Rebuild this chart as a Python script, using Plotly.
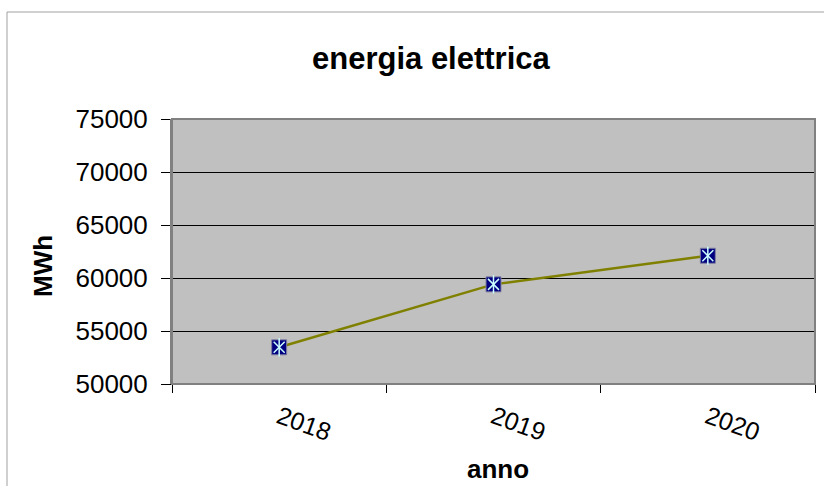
import plotly.graph_objects as go

years = ["2018", "2019", "2020"]
mwh = [53460, 59400, 62100]
y_ticks = [50000, 55000, 60000, 65000, 70000, 75000]
y_tick_labels = [str(v) for v in y_ticks]
title_text = "energia elettrica"
x_title = "anno"
y_title = "MWh"

W, H = 824, 486
L, R, T, B = 172, 9, 119, 102
PW, PH = W - L - R, H - T - B

def px_x(px):
    return (px - L) / PW

def px_y(py):
    return (H - B - py) / PH

FONT = "Liberation Sans, Arial, sans-serif"

fig = go.Figure()
fig.add_trace(go.Scatter(
    x=years, y=mwh, mode="lines+markers",
    line=dict(color="#808000", width=2.5),
    marker=dict(symbol="square", size=15, color="#000080",
                line=dict(color="#8080a0", width=1)),
    showlegend=False, hoverinfo="skip"))
fig.add_trace(go.Scatter(
    x=years, y=mwh, mode="markers",
    marker=dict(symbol="x-thin-open", size=11, color="#ccffff",
                line=dict(color="#ccffff", width=1.5)),
    showlegend=False, hoverinfo="skip"))
fig.add_trace(go.Scatter(
    x=years, y=mwh, mode="markers",
    marker=dict(symbol="line-ns-open", size=13, color="#ccffff",
                line=dict(color="#ccffff", width=1.5)),
    showlegend=False, hoverinfo="skip"))

fig.update_layout(
    width=W, height=H,
    margin=dict(l=L, r=R, t=T, b=B, pad=0),
    paper_bgcolor="white",
    plot_bgcolor="#C0C0C0",
    font=dict(family=FONT, color="black"),
    showlegend=False,
    xaxis=dict(
        type="category", range=[-0.5, 2.5],
        tickson="boundaries", ticks="outside", ticklen=8, tickwidth=1,
        tickcolor="black", showgrid=False, zeroline=False,
        showline=True, linecolor="black", linewidth=1,
        tickangle=20, tickfont=dict(size=25, family=FONT),
        ticklabelstandoff=8,
    ),
    yaxis=dict(
        range=[50000, 75000], tickvals=y_ticks, ticktext=y_tick_labels,
        ticks="outside", ticklen=9, tickwidth=1, tickcolor="black",
        showgrid=True, gridcolor="black", gridwidth=1, zeroline=False,
        showline=True, linecolor="#808080", linewidth=2,
        tickfont=dict(size=26, family=FONT),
        ticklabelstandoff=8,
    ),
    shapes=[
        dict(type="rect", xref="paper", yref="paper",
             x0=0, x1=1, y0=0, y1=1,
             line=dict(color="#808080", width=2), fillcolor="rgba(0,0,0,0)",
             layer="above"),
        dict(type="rect", xref="paper", yref="paper",
             x0=px_x(7), x1=px_x(W + 20), y0=px_y(H + 20), y1=px_y(12),
             line=dict(color="#A0A0A0", width=1), fillcolor="rgba(0,0,0,0)",
             layer="above"),
    ],
    annotations=[
        dict(text=f"<b>{title_text}</b>", xref="paper", yref="paper",
             x=px_x(431), y=px_y(58), xanchor="center", yanchor="middle",
             showarrow=False, font=dict(size=31, family=FONT)),
        dict(text=f"<b>{y_title}</b>", xref="paper", yref="paper",
             x=px_x(43), y=px_y(266), xanchor="center", yanchor="middle",
             textangle=-90, showarrow=False, font=dict(size=26, family=FONT)),
        dict(text=f"<b>{x_title}</b>", xref="paper", yref="paper",
             x=px_x(498), y=px_y(469), xanchor="center", yanchor="middle",
             showarrow=False, font=dict(size=26, family=FONT)),
    ],
)

fig.write_html("out.html")
